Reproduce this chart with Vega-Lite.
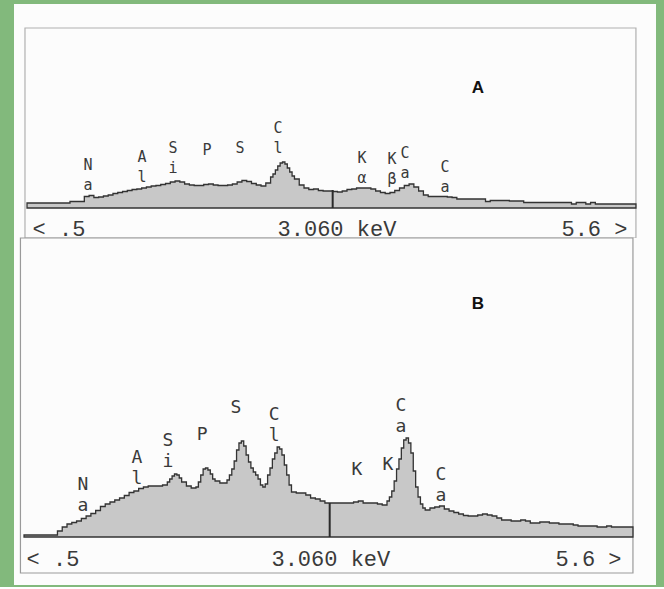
{
  "$schema": "https://vega.github.io/schema/vega-lite/v6.json",
  "background": "#82b97c",
  "padding": {"left": 14, "top": 4, "right": 8, "bottom": 2},
  "bounds": "flush",
  "spacing": 0,
  "config": {
    "view": {"stroke": null, "fill": "#fcfcfc"},
    "axis": {"grid": false, "ticks": false, "domain": false, "title": null, "labelFont": "Liberation Mono", "labelFontSize": 22, "labelColor": "#3a3a3a", "labelAlign": "left", "labelBaseline": "middle", "labelPadding": 0, "labelFlush": false, "labelOverlap": false, "labelBound": false}
  },
  "datasets": {
    "specA": [
      {"keV":0.50,"counts":5},{"keV":0.54,"counts":5},{"keV":0.58,"counts":5},{"keV":0.62,"counts":5},{"keV":0.66,"counts":5},{"keV":0.70,"counts":5},{"keV":0.74,"counts":5},{"keV":0.78,"counts":5},{"keV":0.82,"counts":5},{"keV":0.86,"counts":6.5},{"keV":0.90,"counts":6.5},{"keV":0.94,"counts":6.5},{"keV":0.98,"counts":11.5},{"keV":1.02,"counts":12.5},{"keV":1.06,"counts":10.5},{"keV":1.10,"counts":11},{"keV":1.14,"counts":12},{"keV":1.18,"counts":13},{"keV":1.22,"counts":14.5},{"keV":1.26,"counts":15.5},{"keV":1.30,"counts":16.5},{"keV":1.34,"counts":17.5},{"keV":1.38,"counts":18.5},{"keV":1.42,"counts":19},{"keV":1.46,"counts":20},{"keV":1.50,"counts":21},{"keV":1.54,"counts":22},{"keV":1.58,"counts":22.5},{"keV":1.62,"counts":23.5},{"keV":1.66,"counts":24.5},{"keV":1.70,"counts":26},{"keV":1.74,"counts":27},{"keV":1.78,"counts":26},{"keV":1.82,"counts":24},{"keV":1.86,"counts":23},{"keV":1.90,"counts":22.5},{"keV":1.94,"counts":22.5},{"keV":1.98,"counts":23.5},{"keV":2.02,"counts":24},{"keV":2.06,"counts":23},{"keV":2.10,"counts":22.5},{"keV":2.14,"counts":22.5},{"keV":2.18,"counts":23},{"keV":2.22,"counts":24},{"keV":2.26,"counts":26},{"keV":2.30,"counts":27.5},{"keV":2.34,"counts":26.5},{"keV":2.38,"counts":24.5},{"keV":2.42,"counts":23},{"keV":2.46,"counts":22},{"keV":2.50,"counts":25},{"keV":2.54,"counts":31},{"keV":2.56,"counts":34},{"keV":2.58,"counts":38},{"keV":2.60,"counts":42},{"keV":2.62,"counts":45},{"keV":2.64,"counts":46},{"keV":2.66,"counts":44},{"keV":2.68,"counts":40},{"keV":2.70,"counts":36},{"keV":2.72,"counts":32},{"keV":2.74,"counts":29},{"keV":2.78,"counts":23},{"keV":2.82,"counts":20},{"keV":2.86,"counts":18.5},{"keV":2.90,"counts":19},{"keV":2.94,"counts":17.5},{"keV":2.98,"counts":17},{"keV":3.02,"counts":17},{"keV":3.06,"counts":16.5},{"keV":3.10,"counts":16},{"keV":3.14,"counts":17},{"keV":3.18,"counts":18.5},{"keV":3.22,"counts":19},{"keV":3.26,"counts":20},{"keV":3.30,"counts":20},{"keV":3.34,"counts":20},{"keV":3.38,"counts":19},{"keV":3.42,"counts":17},{"keV":3.46,"counts":15.5},{"keV":3.50,"counts":14.5},{"keV":3.54,"counts":15.5},{"keV":3.58,"counts":17.5},{"keV":3.62,"counts":20},{"keV":3.66,"counts":22.5},{"keV":3.70,"counts":24},{"keV":3.74,"counts":21},{"keV":3.78,"counts":17},{"keV":3.82,"counts":13},{"keV":3.86,"counts":11.5},{"keV":3.90,"counts":11.5},{"keV":3.94,"counts":11.5},{"keV":3.98,"counts":11.5},{"keV":4.02,"counts":11},{"keV":4.06,"counts":10.5},{"keV":4.10,"counts":9},{"keV":4.14,"counts":9},{"keV":4.18,"counts":9},{"keV":4.22,"counts":9},{"keV":4.26,"counts":9},{"keV":4.30,"counts":9},{"keV":4.34,"counts":6.5},{"keV":4.38,"counts":7.5},{"keV":4.42,"counts":7.5},{"keV":4.46,"counts":7.5},{"keV":4.50,"counts":7.5},{"keV":4.54,"counts":7},{"keV":4.58,"counts":7},{"keV":4.62,"counts":7},{"keV":4.66,"counts":5.5},{"keV":4.70,"counts":5.5},{"keV":4.74,"counts":5.5},{"keV":4.78,"counts":5.5},{"keV":4.82,"counts":5.5},{"keV":4.86,"counts":5.5},{"keV":4.90,"counts":5.5},{"keV":4.94,"counts":5.5},{"keV":4.98,"counts":5.5},{"keV":5.02,"counts":5.5},{"keV":5.06,"counts":4},{"keV":5.10,"counts":5.5},{"keV":5.14,"counts":5.5},{"keV":5.18,"counts":4},{"keV":5.22,"counts":5.5},{"keV":5.26,"counts":4},{"keV":5.30,"counts":4},{"keV":5.34,"counts":4},{"keV":5.38,"counts":4},{"keV":5.42,"counts":4},{"keV":5.46,"counts":4},{"keV":5.50,"counts":4},{"keV":5.54,"counts":4},{"keV":5.60,"counts":4}
    ],
    "specB": [
      {"keV":0.50,"counts":2},{"keV":0.54,"counts":2},{"keV":0.58,"counts":2},{"keV":0.62,"counts":2},{"keV":0.66,"counts":2},{"keV":0.70,"counts":2},{"keV":0.74,"counts":2},{"keV":0.78,"counts":6},{"keV":0.82,"counts":10},{"keV":0.86,"counts":13},{"keV":0.90,"counts":14.5},{"keV":0.94,"counts":16},{"keV":0.98,"counts":18.5},{"keV":1.02,"counts":21},{"keV":1.06,"counts":23.5},{"keV":1.10,"counts":26.5},{"keV":1.14,"counts":30.5},{"keV":1.18,"counts":33},{"keV":1.22,"counts":35},{"keV":1.26,"counts":37},{"keV":1.30,"counts":39},{"keV":1.34,"counts":41.5},{"keV":1.38,"counts":44.5},{"keV":1.42,"counts":46},{"keV":1.46,"counts":48.5},{"keV":1.50,"counts":50},{"keV":1.54,"counts":51},{"keV":1.58,"counts":51},{"keV":1.62,"counts":51},{"keV":1.66,"counts":52},{"keV":1.70,"counts":55},{"keV":1.72,"counts":58},{"keV":1.74,"counts":61},{"keV":1.76,"counts":63},{"keV":1.78,"counts":62},{"keV":1.80,"counts":59},{"keV":1.82,"counts":55},{"keV":1.86,"counts":51},{"keV":1.90,"counts":49},{"keV":1.94,"counts":50},{"keV":1.96,"counts":55},{"keV":1.98,"counts":62},{"keV":2.00,"counts":68},{"keV":2.02,"counts":69},{"keV":2.04,"counts":67},{"keV":2.06,"counts":63},{"keV":2.08,"counts":58},{"keV":2.10,"counts":56},{"keV":2.14,"counts":54},{"keV":2.18,"counts":54},{"keV":2.20,"counts":57},{"keV":2.22,"counts":62},{"keV":2.24,"counts":68},{"keV":2.26,"counts":76},{"keV":2.28,"counts":87},{"keV":2.30,"counts":94},{"keV":2.32,"counts":96},{"keV":2.34,"counts":91},{"keV":2.36,"counts":82},{"keV":2.38,"counts":75},{"keV":2.40,"counts":69},{"keV":2.42,"counts":65},{"keV":2.44,"counts":62},{"keV":2.46,"counts":58},{"keV":2.48,"counts":52},{"keV":2.50,"counts":50},{"keV":2.52,"counts":53},{"keV":2.54,"counts":62},{"keV":2.56,"counts":69},{"keV":2.58,"counts":78},{"keV":2.60,"counts":84},{"keV":2.62,"counts":90},{"keV":2.64,"counts":88},{"keV":2.66,"counts":82},{"keV":2.68,"counts":72},{"keV":2.70,"counts":62},{"keV":2.72,"counts":52},{"keV":2.74,"counts":45},{"keV":2.78,"counts":44},{"keV":2.82,"counts":44},{"keV":2.86,"counts":42},{"keV":2.90,"counts":39},{"keV":2.94,"counts":38},{"keV":2.98,"counts":36},{"keV":3.02,"counts":34},{"keV":3.06,"counts":34},{"keV":3.10,"counts":34},{"keV":3.14,"counts":34},{"keV":3.18,"counts":34},{"keV":3.22,"counts":34},{"keV":3.26,"counts":35},{"keV":3.30,"counts":36},{"keV":3.34,"counts":34},{"keV":3.38,"counts":34},{"keV":3.42,"counts":34},{"keV":3.46,"counts":33},{"keV":3.50,"counts":32},{"keV":3.54,"counts":36},{"keV":3.56,"counts":40},{"keV":3.58,"counts":46},{"keV":3.60,"counts":56},{"keV":3.62,"counts":68},{"keV":3.64,"counts":78},{"keV":3.66,"counts":89},{"keV":3.68,"counts":97},{"keV":3.70,"counts":99},{"keV":3.72,"counts":94},{"keV":3.74,"counts":84},{"keV":3.76,"counts":66},{"keV":3.78,"counts":50},{"keV":3.80,"counts":40},{"keV":3.82,"counts":33},{"keV":3.84,"counts":29},{"keV":3.86,"counts":27},{"keV":3.90,"counts":29},{"keV":3.94,"counts":30},{"keV":3.98,"counts":31},{"keV":4.02,"counts":28},{"keV":4.06,"counts":26},{"keV":4.10,"counts":24.5},{"keV":4.14,"counts":23},{"keV":4.18,"counts":21.5},{"keV":4.22,"counts":21},{"keV":4.26,"counts":21},{"keV":4.30,"counts":22},{"keV":4.34,"counts":23},{"keV":4.38,"counts":22},{"keV":4.42,"counts":21},{"keV":4.46,"counts":19},{"keV":4.50,"counts":17},{"keV":4.54,"counts":17},{"keV":4.58,"counts":16},{"keV":4.62,"counts":16},{"keV":4.66,"counts":17},{"keV":4.70,"counts":16},{"keV":4.74,"counts":14},{"keV":4.78,"counts":14},{"keV":4.82,"counts":15},{"keV":4.86,"counts":15},{"keV":4.90,"counts":14},{"keV":4.94,"counts":14},{"keV":4.98,"counts":13},{"keV":5.02,"counts":13},{"keV":5.06,"counts":13},{"keV":5.10,"counts":12},{"keV":5.14,"counts":11},{"keV":5.18,"counts":11},{"keV":5.22,"counts":11},{"keV":5.26,"counts":11},{"keV":5.30,"counts":10},{"keV":5.34,"counts":10},{"keV":5.38,"counts":11},{"keV":5.42,"counts":10},{"keV":5.46,"counts":10},{"keV":5.50,"counts":10},{"keV":5.54,"counts":10},{"keV":5.60,"counts":10}
    ],
    "labelsA": [
      {"keV":1.011,"counts":38,"label":"N\na"},
      {"keV":1.463,"counts":46,"label":"A\nl"},
      {"keV":1.723,"counts":55,"label":"S\ni"},
      {"keV":2.007,"counts":53,"label":"P"},
      {"keV":2.284,"counts":55,"label":"S"},
      {"keV":2.602,"counts":75,"label":"C\nl"},
      {"keV":3.305,"counts":45,"label":"K\nα"},
      {"keV":3.557,"counts":44,"label":"K\nβ"},
      {"keV":3.666,"counts":50,"label":"C\na"},
      {"keV":4.001,"counts":36,"label":"C\na"}
    ],
    "labelsB": [
      {"keV":0.994,"counts":47,"label":"N\na"},
      {"keV":1.446,"counts":74,"label":"A\nl"},
      {"keV":1.706,"counts":91,"label":"S\ni"},
      {"keV":1.991,"counts":97,"label":"P"},
      {"keV":2.275,"counts":124,"label":"S"},
      {"keV":2.594,"counts":117,"label":"C\nl"},
      {"keV":3.289,"counts":62,"label":"K"},
      {"keV":3.548,"counts":67,"label":"K"},
      {"keV":3.657,"counts":126,"label":"C\na"},
      {"keV":3.992,"counts":57,"label":"C\na"}
    ]
  },
  "vconcat": [
    {
      "width": 642,
      "height": 234,
      "layer": [
        {
          "data": {"values": [{"x1": 0.483, "x2": 5.6, "y1": -30, "y2": 180}]},
          "mark": {"type": "rect", "fill": null, "stroke": "#b0b0b0", "strokeWidth": 1.2},
          "encoding": {
            "x": {"field": "x1", "type": "quantitative", "scale": {"domain": [0.391, 5.768], "nice": false, "zero": false}},
            "x2": {"field": "x2"},
            "y": {"field": "y1", "type": "quantitative", "scale": {"domain": [-30, 204], "nice": false, "zero": false}, "axis": null},
            "y2": {"field": "y2"}
          }
        },
        {
          "data": {"name": "specA"},
          "mark": {"type": "area", "interpolate": "step-after", "fill": "#c8c8c8", "stroke": "#333333", "strokeWidth": 1.3},
          "encoding": {
            "x": {"field": "keV", "type": "quantitative", "scale": {"domain": [0.391, 5.768], "nice": false, "zero": false}, "axis": {"orient": "bottom", "offset": -10, "values": [0.542, 2.594, 4.972], "labelExpr": "datum.value < 1 ? '< .5' : datum.value < 4 ? '3.060  keV' : '5.6 >'"}},
            "y": {"field": "counts", "type": "quantitative", "scale": {"domain": [-30, 204], "nice": false, "zero": false}, "axis": null},
            "y2": {"datum": 0}
          }
        },
        {
          "data": {"values": [{"keV": 3.06, "bottom": 0, "top": 18}]},
          "mark": {"type": "rule", "stroke": "#2a2a2a", "strokeWidth": 2},
          "encoding": {
            "x": {"field": "keV", "type": "quantitative"},
            "y": {"field": "bottom", "type": "quantitative"},
            "y2": {"field": "top"}
          }
        },
        {
          "data": {"name": "labelsA"},
          "mark": {"type": "text", "font": "DejaVu Sans Mono", "fontSize": 15, "lineHeight": 20, "lineBreak": "\n", "baseline": "alphabetic", "align": "center", "color": "#3a3a3a"},
          "encoding": {
            "x": {"field": "keV", "type": "quantitative"},
            "y": {"field": "counts", "type": "quantitative"},
            "text": {"field": "label", "type": "nominal"}
          }
        },
        {
          "data": {"values": [{"keV": 4.277, "counts": 115, "label": "A"}]},
          "mark": {"type": "text", "font": "Liberation Sans", "fontWeight": "bold", "fontSize": 17, "baseline": "alphabetic", "align": "center", "color": "#111111"},
          "encoding": {
            "x": {"field": "keV", "type": "quantitative"},
            "y": {"field": "counts", "type": "quantitative"},
            "text": {"field": "label", "type": "nominal"}
          }
        }
      ]
    },
    {
      "width": 642,
      "height": 347,
      "layer": [
        {
          "data": {"values": [{"x1": 0.47, "x2": 5.6, "y1": -36, "y2": 299}]},
          "mark": {"type": "rect", "fill": null, "stroke": "#9a9a9a", "strokeWidth": 1.2},
          "encoding": {
            "x": {"field": "x1", "type": "quantitative", "scale": {"domain": [0.416, 5.793], "nice": false, "zero": false}},
            "x2": {"field": "x2"},
            "y": {"field": "y1", "type": "quantitative", "scale": {"domain": [-48, 299], "nice": false, "zero": false}, "axis": null},
            "y2": {"field": "y2"}
          }
        },
        {
          "data": {"name": "specB"},
          "mark": {"type": "area", "interpolate": "step-after", "fill": "#c8c8c8", "stroke": "#333333", "strokeWidth": 1.3},
          "encoding": {
            "x": {"field": "keV", "type": "quantitative", "scale": {"domain": [0.416, 5.793], "nice": false, "zero": false}, "axis": {"orient": "bottom", "offset": -27, "values": [0.517, 2.568, 4.947], "labelExpr": "datum.value < 1 ? '< .5' : datum.value < 4 ? '3.060  keV' : '5.6 >'"}},
            "y": {"field": "counts", "type": "quantitative", "scale": {"domain": [-48, 299], "nice": false, "zero": false}, "axis": null},
            "y2": {"datum": 0}
          }
        },
        {
          "data": {"values": [{"keV": 3.06, "bottom": 0, "top": 34}]},
          "mark": {"type": "rule", "stroke": "#2a2a2a", "strokeWidth": 2},
          "encoding": {
            "x": {"field": "keV", "type": "quantitative"},
            "y": {"field": "bottom", "type": "quantitative"},
            "y2": {"field": "top"}
          }
        },
        {
          "data": {"name": "labelsB"},
          "mark": {"type": "text", "font": "DejaVu Sans Mono", "fontSize": 18, "lineHeight": 21, "lineBreak": "\n", "baseline": "alphabetic", "align": "center", "color": "#3a3a3a"},
          "encoding": {
            "x": {"field": "keV", "type": "quantitative"},
            "y": {"field": "counts", "type": "quantitative"},
            "text": {"field": "label", "type": "nominal"}
          }
        },
        {
          "data": {"values": [{"keV": 4.302, "counts": 228, "label": "B"}]},
          "mark": {"type": "text", "font": "Liberation Sans", "fontWeight": "bold", "fontSize": 17, "baseline": "alphabetic", "align": "center", "color": "#111111"},
          "encoding": {
            "x": {"field": "keV", "type": "quantitative"},
            "y": {"field": "counts", "type": "quantitative"},
            "text": {"field": "label", "type": "nominal"}
          }
        }
      ]
    }
  ]
}
